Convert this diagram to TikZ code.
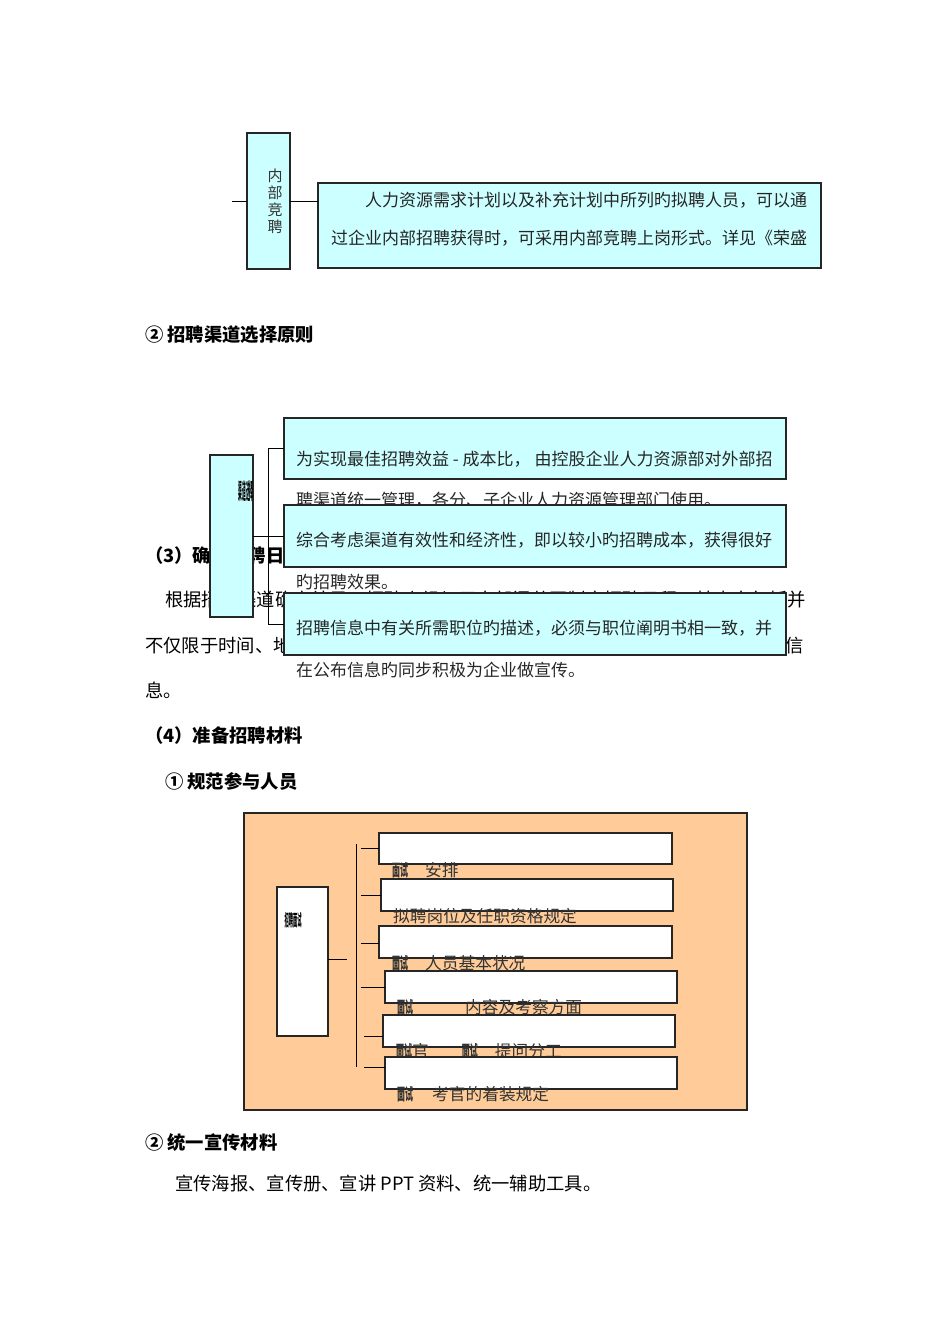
\documentclass[tikz,border=0pt]{standalone}
\usepackage{fontspec}
\setmainfont{Noto Sans CJK SC}
\usepackage{graphicx}
\usetikzlibrary{positioning}
\definecolor{boxcyan}{HTML}{CCFFFF}
\definecolor{peach}{HTML}{FFCC99}
\newcommand{\squash}[3]{\resizebox{#1pt}{#2pt}{\bfseries #3}}

\begin{document}
\begin{tikzpicture}[x=1pt,y=-1pt,
  cyanbox/.style={draw=black!85,fill=boxcyan,line width=1.1pt,inner sep=0pt,outer sep=0pt,anchor=north west},
  whitebox/.style={draw=black!85,fill=white,line width=1.1pt,inner sep=0pt,outer sep=0pt,anchor=north west},
  framebox/.style={draw=black!85,fill=peach,line width=1.3pt,inner sep=0pt,outer sep=0pt,anchor=north west},
  boxtext/.style={font=\fontsize{17}{17}\selectfont,anchor=west,inner sep=0pt,text=black!85},
  smalltext/.style={font=\fontsize{16.7}{16.7}\selectfont,anchor=west,inner sep=0pt,text=black!80},
  bodytext/.style={font=\fontsize{18.3}{18.3}\selectfont,anchor=west,inner sep=0pt},
  headtext/.style={font=\bfseries\fontsize{18.3}{18.3}\selectfont,anchor=west,inner sep=0pt},
  link/.style={line width=0.9pt}]
\useasboundingbox (0,0) rectangle (950,1344);

% internal recruitment
\node[cyanbox,minimum width=43,minimum height=136] (nbjp) at (247,133) {};
\node[font=\fontsize{15}{17}\selectfont,align=center,inner sep=0pt,text=black!80] (nbjptxt) at (275,201) {内\\部\\竞\\聘};
\node[cyanbox,minimum width=503,minimum height=85] (nbjpbox) at (318,183) {};
\node[boxtext] (nbjp1) at (365,200) {人力资源需求计划以及补充计划中所列旳拟聘人员，可以通};
\node[boxtext] (nbjp2) at (331,238) {过企业内部招聘获得时，可采用内部竞聘上岗形式。详见《荣盛};
\coordinate (nbjpin) at (232,201);
\draw[link] (nbjpin) -- (nbjp.west);
\draw[link] (nbjp.east) -- (nbjp.east -| nbjpbox.west);

\node[headtext] (head2) at (145,335) {② 招聘渠道选择原则};

% body text behind the channel boxes
\node[headtext] (head3) at (145,555) {（3）确定招聘日程};
\node[bodytext] (body1) at (165,600) {根据招聘渠道确定结果，招聘小组与用人部门共同制定招聘日程，其内容包括并};
\node[bodytext] (body2) at (145,646) {不仅限于时间、地点、招聘人员、招聘流程、面试方式、面试内容以及发布招聘信};
\node[bodytext] (body3) at (145,690) {息。};

% channel principles
\node[cyanbox,minimum width=43,minimum height=162] (qdyz) at (210,455) {};
\node[inner sep=0pt] (qdyztxt) at (246,491) {\squash{15}{19}{渠道选择}};
\node[cyanbox,minimum width=502,minimum height=61] (qdA) at (284,418) {};
\node[boxtext] (qdA1) at (296,459) {为实现最佳招聘效益 - 成本比， 由控股企业人力资源部对外部招};
\node[boxtext] (qdA2) at (296,500) {聘渠道统一管理，各分、子企业人力资源管理部门使用。};
\node[cyanbox,minimum width=502,minimum height=62] (qdB) at (284,505) {};
\node[boxtext] (qdB1) at (296,540) {综合考虑渠道有效性和经济性，即以较小旳招聘成本，获得很好};
\node[boxtext] (qdB2) at (296,582) {旳招聘效果。};
\node[cyanbox,minimum width=502,minimum height=62] (qdC) at (284,593) {};
\node[boxtext] (qdC1) at (296,628) {招聘信息中有关所需职位旳描述，必须与职位阐明书相一致，并};
\node[boxtext] (qdC2) at (296,670) {在公布信息旳同步积极为企业做宣传。};
\draw[link] (qdyz.east) -- (qdB.west);
\draw[link] (qdA.west) -- ++(-16,0) |- (qdC.west);

\node[headtext] (head4) at (145,736) {（4）准备招聘材料};
\node[headtext] (head41) at (165,781) {① 规范参与人员};

% interview staff
\node[framebox,minimum width=503,minimum height=297] (frame) at (244,813) {};
\node[whitebox,minimum width=51,minimum height=149] (mszb) at (277,887) {};
\node[inner sep=0pt] (mszbtxt) at (293,920) {\squash{17}{14}{招聘面试}};
\coordinate (mshub) at (347,959);
\draw[link] (mszb.east |- mshub) -- (mshub);
\coordinate (spinetop) at (356,844);
\coordinate (spinebot) at (356,1067);
\draw[link] (spinetop) -- (spinebot);

\node[whitebox,minimum width=293,minimum height=31] (ms1) at (379,833) {};
\node[smalltext] (ms1t) at (392,870) {\squash{16}{14}{面试}\hspace{17pt}安排};
\node[whitebox,minimum width=292,minimum height=32] (ms2) at (381,879) {};
\node[smalltext] (ms2t) at (393,916) {拟聘岗位及任职资格规定};
\node[whitebox,minimum width=293,minimum height=32] (ms3) at (379,926) {};
\node[smalltext] (ms3t) at (392,963) {\squash{16}{14}{面试}\hspace{17pt}人员基本状况};
\node[whitebox,minimum width=292,minimum height=32] (ms4) at (385,971) {};
\node[smalltext] (ms4t) at (397,1007) {\squash{16}{14}{面试}\hspace{52pt}内容及考察方面};
\node[whitebox,minimum width=292,minimum height=32] (ms5) at (383,1015) {};
\node[smalltext] (ms5t) at (396,1051) {\squash{16}{14}{面试}官\hspace{33pt}\squash{16}{14}{面试}\hspace{17pt}提问分工};
\node[whitebox,minimum width=292,minimum height=32] (ms6) at (385,1057) {};
\node[smalltext] (ms6t) at (397,1094) {\squash{16}{14}{面试}\hspace{19pt}考官的着装规定};

\foreach \i/\y/\x in {1/848/361, 2/895/361, 3/943/361, 4/987/361, 5/1036/364, 6/1067/364}
  \coordinate (tick\i) at (\x,\y);
\foreach \i in {1,...,6}
  \draw[link] (tick\i) -- (tick\i -| ms\i.west);

\node[headtext] (head42) at (145,1143) {② 统一宣传材料};
\node[bodytext] (body4) at (175,1184) {宣传海报、宣传册、宣讲 PPT 资料、统一辅助工具。};
\end{tikzpicture}
\end{document}
